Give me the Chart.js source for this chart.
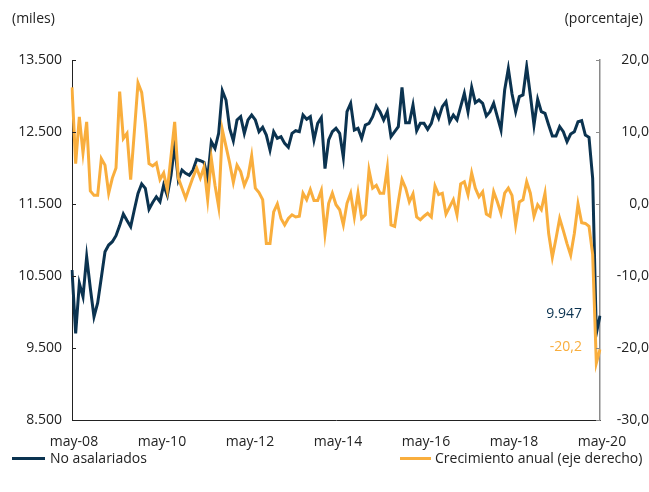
<!DOCTYPE html>
<html lang="es">
<head>
<meta charset="utf-8">
<title>No asalariados</title>
<script src="https://cdn.jsdelivr.net/npm/chart.js@4/dist/chart.umd.min.js"></script>
<style>
  body { margin: 0; background: #fff; font-family: "Open Sans", sans-serif; color: #222; }
  #wrap { position: relative; width: 649px; height: 492px; }
  .txt { position: absolute; font-size: 14px; line-height: 18px; white-space: nowrap; }
  .swatch { position: absolute; height: 3px; }
</style>
</head>
<body>
<div id="wrap">
  <canvas id="mainChart"></canvas>
  <div class="txt" style="left:12px; top:9px;">(miles)</div>
  <div class="txt" style="right:6px; top:9px;">(porcentaje)</div>
  <div class="swatch" style="left:12px; top:457px; width:33px; background:#0b3350;"></div>
  <div class="txt" style="left:50px; top:449px;">No asalariados</div>
  <div class="swatch" style="left:400px; top:457px; width:31px; background:#f9ae3d;"></div>
  <div class="txt" style="left:435px; top:449px;">Crecimiento anual (eje derecho)</div>
</div>
<script>
// DATA

const MONTHS = ["ene", "feb", "mar", "abr", "may", "jun", "jul", "ago", "sep", "oct", "nov", "dic"];

// may-08 .. may-20, one label per month
function buildMonths(startYear, startMonth, count) {
  const out = [];
  for (let i = 0; i < count; i++) {
    const m = (startMonth + i) % 12;
    const y = startYear + Math.floor((startMonth + i) / 12);
    out.push(MONTHS[m] + "-" + String(y % 100).padStart(2, "0"));
  }
  return out;
}

const months = buildMonths(2008, 4, 145);

// no asalariados, miles
const noAsalariados = [
  10583, 9704, 10398, 10213, 10768, 10330, 9935, 10125, 10480, 10838,
  10930, 10976, 11060, 11200, 11361, 11270, 11185, 11420, 11648, 11778,
  11718, 11426, 11520, 11600, 11532, 11764, 11620, 11900, 12319, 11833,
  11972, 11926, 11900, 11972, 12120, 12101, 12080, 11856, 12365, 12273,
  12481, 13074, 12944, 12551, 12379, 12667, 12713, 12481, 12667, 12736,
  12667, 12504, 12565, 12458, 12250, 12504, 12412, 12435, 12342, 12287,
  12481, 12518, 12504, 12736, 12676, 12713, 12389, 12620, 12699, 11991,
  12389, 12504, 12551, 12481, 12148, 12782, 12898, 12528, 12551, 12412,
  12597, 12620, 12713, 12861, 12782, 12667, 12782, 12435, 12504, 12574,
  13120, 12629, 12629, 12875, 12518, 12620, 12620, 12537, 12620, 12806,
  12690, 12852, 12921, 12643, 12736, 12667, 12852, 13037, 12782, 13120,
  12907, 12944, 12898, 12722, 12782, 12898, 12713, 12528, 13083, 13380,
  13030, 12782, 12991, 13014, 13407, 13014, 12597, 12954, 12782, 12759,
  12597, 12444, 12444, 12574, 12504, 12365, 12472, 12504, 12643, 12657,
  12458, 12426, 11856, 9700, 9947
];

// crecimiento anual, %
const crecimiento = [
  16.2, 5.6, 12.1, 7.1, 11.4, 1.8, 1.2, 1.2, 6.3, 5.4,
  1.5, 3.6, 5.0, 15.6, 9.1, 9.8, 3.4, 10.0, 16.8, 15.5,
  11.2, 5.6, 5.3, 5.7, 3.4, 4.3, 1.9, 6.6, 11.4, 3.6,
  2.2, 0.8, 2.3, 3.7, 5.0, 3.6, 5.1, 0.6, 6.3, 2.6,
  -0.4, 10.3, 8.0, 5.7, 3.0, 5.4, 4.5, 2.6, 3.8, 6.7,
  2.2, 1.6, 0.6, -5.5, -5.5, -1.1, 0.0, -2.0, -2.9, -2.0,
  -1.5, -1.8, -1.7, 1.5, 0.6, 2.0, 0.5, 0.5, 1.9, -4.1,
  0.1, 1.5, -0.1, -0.8, -2.9, 0.1, 1.5, -1.8, 1.5, -2.0,
  -1.5, 4.7, 2.2, 2.6, 1.5, 1.5, 5.0, -2.9, -3.1, 0.3,
  3.4, 2.2, 0.3, 1.4, -1.8, -2.2, -1.7, -1.3, -1.8, 2.5,
  1.3, 1.5, -1.4, -0.4, 0.6, -1.5, 2.8, 3.1, 1.3, 4.3,
  2.2, 1.0, 1.7, -1.4, -1.7, 1.7, 0.3, -1.3, 1.5, 2.2,
  1.2, -2.9, 0.3, 0.6, 3.1, 1.5, -1.7, -0.1, -0.8, 1.5,
  -4.1, -7.4, -4.8, -2.0, -3.7, -5.5, -7.1, -4.1, 0.0, -2.6,
  -2.7, -3.1, -7.0, -22.1, -20.2
];

const leftTicks = [8500, 9500, 10500, 11500, 12500, 13500];
const rightTicks = [-30, -20, -10, 0, 10, 20];

// STYLE

const NAVY = "#0b3350";
const ORANGE = "#f9ae3d";
const AXIS_DARK = "#222";
const AXIS_GREY = "#8a8a8a";
const FONT = { family: "'Open Sans', sans-serif", size: 14 };

const fmtMiles = v => v.toLocaleString("de-DE");
const fmtPct = v => v.toFixed(1).replace(".", ",");

// PLUGINS

// short tick marks pointing into the plot
const innerTicks = {
  id: "innerTicks",
  afterDraw(chart) {
    const { ctx, chartArea: a, scales } = chart;
    const len = 4;
    ctx.save();
    ctx.lineWidth = 1;

    ctx.strokeStyle = AXIS_DARK;
    leftTicks.forEach(v => {
      const y = Math.round(scales.y.getPixelForValue(v)) + 0.5;
      ctx.beginPath(); ctx.moveTo(a.left, y); ctx.lineTo(a.left + len, y); ctx.stroke();
    });
    months.forEach((m, i) => {
      if (i % 24 !== 0 || i === 0) return;
      const x = Math.round(scales.x.getPixelForTick(i)) - 1.5;
      ctx.beginPath(); ctx.moveTo(x, a.bottom); ctx.lineTo(x, a.bottom - len); ctx.stroke();
    });

    ctx.strokeStyle = AXIS_GREY;
    rightTicks.forEach(v => {
      const y = Math.round(scales.y1.getPixelForValue(v)) + 0.5;
      ctx.beginPath(); ctx.moveTo(a.right, y); ctx.lineTo(a.right - len, y); ctx.stroke();
    });
    ctx.restore();
  }
};

// last value of each series written beside its end point
const lastValues = {
  id: "lastValues",
  afterDatasetsDraw(chart) {
    const { ctx } = chart;
    ctx.save();
    ctx.font = "14px 'Open Sans', sans-serif";
    ctx.textAlign = "right";
    ctx.textBaseline = "middle";
    chart.data.datasets.forEach((ds, i) => {
      const pts = chart.getDatasetMeta(i).data;
      const p = pts[pts.length - 1];
      const v = ds.data[ds.data.length - 1];
      ctx.fillStyle = ds.borderColor;
      ctx.fillText(ds.yAxisID === "y" ? fmtMiles(v) : fmtPct(v), p.x - 18, p.y - 2);
    });
    ctx.restore();
  }
};

// CHART

new Chart(document.getElementById("mainChart"), {
  type: "line",
  data: {
    labels: months,
    datasets: [
      {
        label: "No asalariados",
        data: noAsalariados,
        yAxisID: "y",
        borderColor: NAVY,
        borderWidth: 3,
        pointRadius: 0,
        tension: 0,
        order: 1
      },
      {
        label: "Crecimiento anual (eje derecho)",
        data: crecimiento,
        yAxisID: "y1",
        borderColor: ORANGE,
        borderWidth: 3,
        pointRadius: 0,
        tension: 0,
        order: 0
      }
    ]
  },
  options: {
    responsive: true,
    maintainAspectRatio: false,
    animation: false,
    layout: { padding: { top: 60, left: 0, right: 0, bottom: 0 } },
    plugins: { legend: { display: false }, tooltip: { enabled: false } },
    scales: {
      x: {
        type: "category",
        offset: false,
        grid: { display: false },
        border: { display: true, color: AXIS_DARK, width: 1 },
        ticks: {
          autoSkip: false,
          maxRotation: 0,
          padding: 6,
          labelOffset: 2,
          color: AXIS_DARK,
          font: FONT,
          callback: (val, i) => (i % 24 === 0 ? months[i] : null)
        },
        afterFit: s => { s.height = 72; }
      },
      y: {
        position: "left",
        min: 8500,
        max: 13500,
        grid: { display: false, drawTicks: false },
        border: { display: true, color: AXIS_DARK, width: 1 },
        afterBuildTicks: s => { s.ticks = leftTicks.map(v => ({ value: v })); },
        ticks: { padding: 10, color: AXIS_DARK, font: FONT, callback: v => fmtMiles(v) },
        afterFit: s => { s.width = 72; }
      },
      y1: {
        position: "right",
        min: -30,
        max: 20,
        grid: { display: false, drawTicks: false },
        border: { display: true, color: AXIS_GREY, width: 1.5 },
        afterBuildTicks: s => { s.ticks = rightTicks.map(v => ({ value: v })); },
        ticks: { padding: 0, crossAlign: "far", color: AXIS_DARK, font: FONT, callback: v => fmtPct(v) },
        afterFit: s => { s.width = 49; }
      }
    }
  },
  plugins: [innerTicks, lastValues]
});
</script>
</body>
</html>
